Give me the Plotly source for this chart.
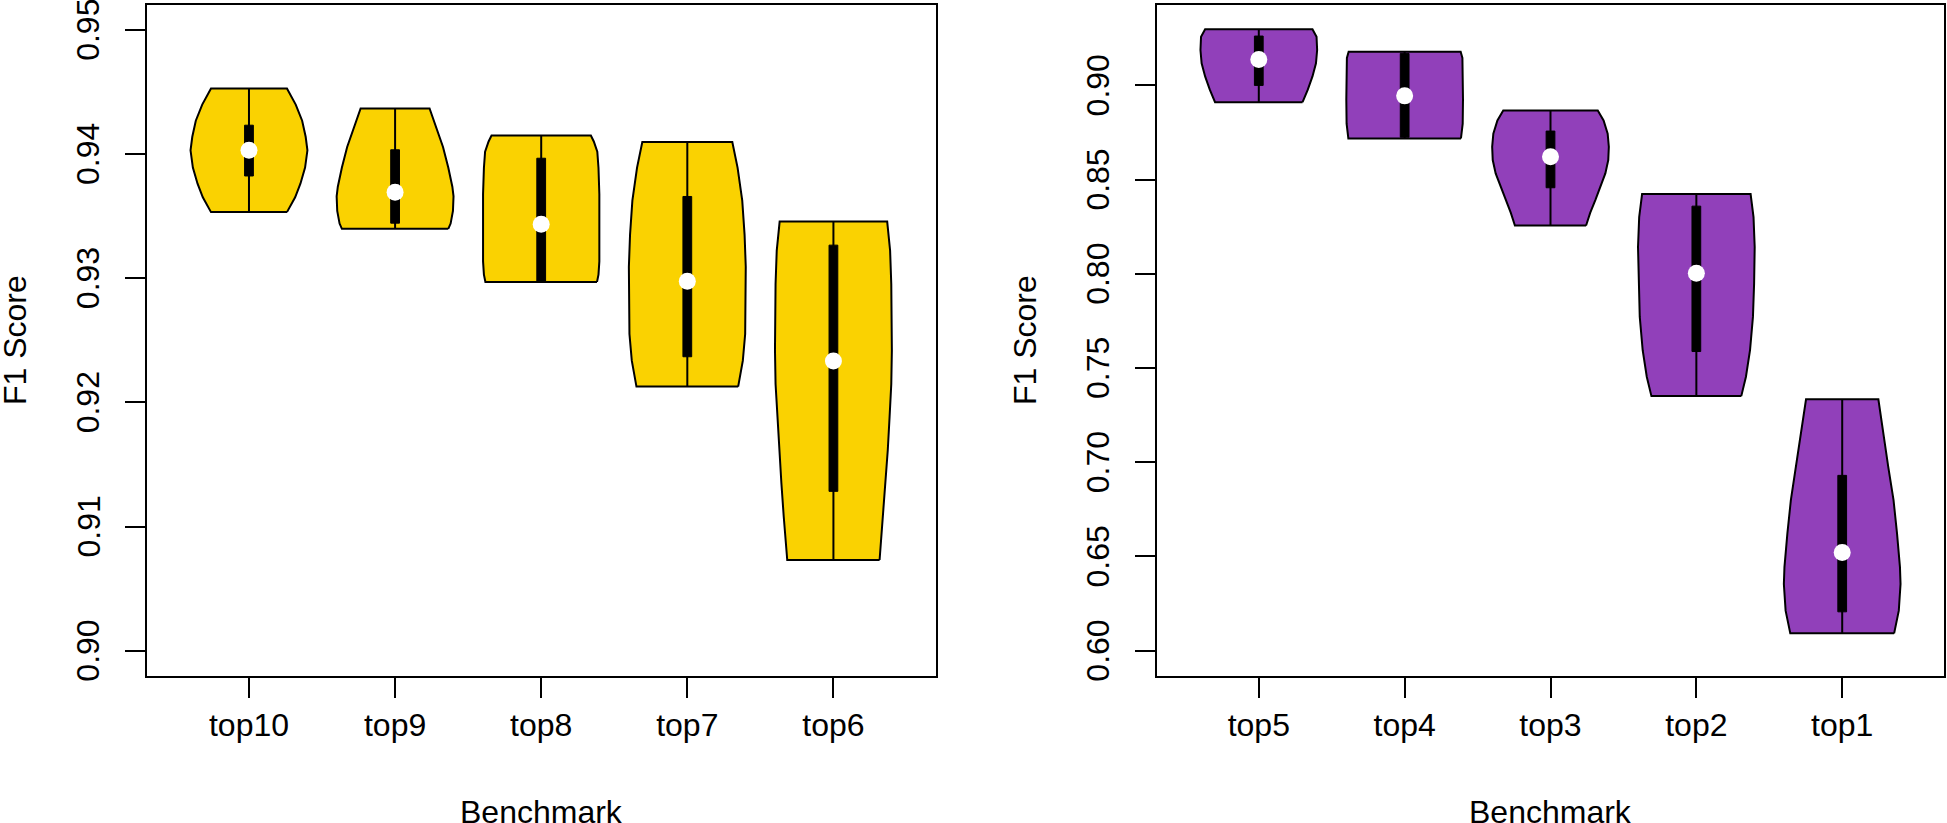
import plotly.graph_objects as go

# ---------------- data ----------------
left_cats = ["top10", "top9", "top8", "top7", "top6"]
left_min = [0.93532, 0.93397, 0.92970, 0.92127, 0.90730]
left_q1 = [0.93823, 0.93443, 0.92970, 0.92367, 0.91283]
left_med = [0.94030, 0.93692, 0.93435, 0.92975, 0.92333]
left_q3 = [0.94232, 0.94034, 0.93966, 0.93658, 0.93266]
left_max = [0.94527, 0.94367, 0.94148, 0.94097, 0.93456]

right_cats = ["top5", "top4", "top3", "top2", "top1"]
right_min = [0.89109, 0.87187, 0.82563, 0.73510, 0.60919]
right_q1 = [0.90000, 0.87250, 0.84568, 0.75877, 0.62061]
right_med = [0.91380, 0.89445, 0.86212, 0.80028, 0.65209]
right_q3 = [0.92620, 0.91700, 0.87577, 0.83593, 0.69304]
right_max = [0.92981, 0.91783, 0.88663, 0.84234, 0.73343]

# density outline: relative position between min (0) and max (1), relative half-width
left_prof_t = [
    [0.0, 0.12, 0.23, 0.36, 0.50, 0.61, 0.74, 0.87, 1.0],
    [0.0, 0.044, 0.15, 0.27, 0.35, 0.51, 0.68, 0.84, 1.0],
    [0.0, 0.05, 0.14, 0.37, 0.60, 0.78, 0.89, 0.96, 1.0],
    [0.0, 0.106, 0.215, 0.35, 0.49, 0.62, 0.76, 0.895, 1.0],
    [0.0, 0.128, 0.226, 0.325, 0.42, 0.52, 0.62, 0.717, 0.815, 0.914, 1.0],
]
left_prof_w = [
    [0.65, 0.79, 0.88, 0.96, 1.0, 0.97, 0.91, 0.80, 0.65],
    [0.91, 0.95, 0.99, 1.0, 0.98, 0.91, 0.82, 0.71, 0.59],
    [0.955, 0.98, 0.995, 1.0, 0.995, 0.98, 0.96, 0.90, 0.85],
    [0.87, 0.95, 0.99, 1.0, 1.0, 0.98, 0.94, 0.86, 0.77],
    [0.79, 0.85, 0.89, 0.93, 0.96, 0.99, 1.0, 1.0, 0.99, 0.97, 0.92],
]
right_prof_t = [
    [0.0, 0.172, 0.353, 0.534, 0.715, 0.896, 1.0],
    [0.0, 0.06, 0.17, 0.45, 0.72, 0.93, 1.0],
    [0.0, 0.11, 0.224, 0.34, 0.454, 0.57, 0.685, 0.80, 0.914, 1.0],
    [0.0, 0.096, 0.227, 0.392, 0.557, 0.738, 0.886, 1.0],
    [0.0, 0.097, 0.211, 0.283, 0.426, 0.569, 0.71, 0.854, 1.0],
]
right_prof_w = [
    [0.75, 0.84, 0.92, 0.98, 1.0, 0.99, 0.92],
    [0.965, 0.98, 0.995, 1.0, 1.0, 0.99, 0.96],
    [0.61, 0.68, 0.77, 0.85, 0.94, 0.99, 1.0, 0.98, 0.91, 0.81],
    [0.77, 0.85, 0.92, 0.97, 0.99, 1.0, 0.98, 0.93],
    [0.89, 0.97, 1.0, 0.99, 0.94, 0.88, 0.79, 0.71, 0.62],
]

left_ticks = [0.90, 0.91, 0.92, 0.93, 0.94, 0.95]
right_ticks = [0.60, 0.65, 0.70, 0.75, 0.80, 0.85, 0.90]
left_range = [0.898, 0.952]
right_range = [0.58682, 0.94268]

GOLD = "#FAD201"
PURPLE = "#9140BA"
FONT = "Liberation Sans, Arial, sans-serif"
HALF = 0.4      # max half-width of violin (x units)
BOXW = 0.03     # half-width of the box

fig = go.Figure()


def add_panel(cats, mins, q1s, meds, q3s, maxs, prof_t, prof_w, color, xa, ya):
    for i in range(len(cats)):
        xc = i + 1
        lo, hi = mins[i], maxs[i]
        ys = [lo + t * (hi - lo) for t in prof_t[i]]
        right_x = [xc + HALF * w for w in prof_w[i]]
        left_x = [xc - HALF * w for w in prof_w[i]]
        px = right_x + left_x[::-1] + [right_x[0]]
        py = ys + ys[::-1] + [ys[0]]
        fig.add_trace(go.Scatter(x=px, y=py, mode="lines", fill="toself",
                                 fillcolor=color, line=dict(color="black", width=2),
                                 xaxis=xa, yaxis=ya, hoverinfo="skip", showlegend=False))
        # whisker
        fig.add_trace(go.Scatter(x=[xc, xc], y=[lo, hi], mode="lines",
                                 line=dict(color="black", width=2),
                                 xaxis=xa, yaxis=ya, hoverinfo="skip", showlegend=False))
        # box
        fig.add_trace(go.Scatter(x=[xc - BOXW, xc + BOXW, xc + BOXW, xc - BOXW, xc - BOXW],
                                 y=[q1s[i], q1s[i], q3s[i], q3s[i], q1s[i]],
                                 mode="lines", fill="toself", fillcolor="black",
                                 line=dict(color="black", width=1),
                                 xaxis=xa, yaxis=ya, hoverinfo="skip", showlegend=False))
    # medians
    fig.add_trace(go.Scatter(x=list(range(1, len(cats) + 1)), y=meds, mode="markers",
                             marker=dict(color="white", size=17, line=dict(width=0)),
                             xaxis=xa, yaxis=ya, hoverinfo="skip", showlegend=False))


add_panel(left_cats, left_min, left_q1, left_med, left_q3, left_max,
          left_prof_t, left_prof_w, GOLD, "x", "y")
add_panel(right_cats, right_min, right_q1, right_med, right_q3, right_max,
          right_prof_t, right_prof_w, PURPLE, "x2", "y2")

W, H = 1947, 823
y_dom = [1 - 675.5 / H, 1 - 5 / H]
xl_dom = [146.7 / W, 935.7 / W]
xr_dom = [1156.7 / W, 1944.3 / W]

axis_common = dict(showline=True, linecolor="black", linewidth=2, mirror=True,
                   ticks="outside", ticklen=20, tickwidth=2, tickcolor="black",
                   showgrid=False, zeroline=False,
                   tickfont=dict(family=FONT, size=32, color="black"))

fig.update_layout(
    width=W, height=H, margin=dict(l=0, r=0, t=0, b=0),
    paper_bgcolor="white", plot_bgcolor="white",
    xaxis=dict(domain=xl_dom, range=[0.3, 5.7], tickvals=[1, 2, 3, 4, 5],
               ticktext=left_cats, anchor="y", **axis_common),
    yaxis=dict(domain=y_dom, range=left_range, tickvals=left_ticks,
               showticklabels=False, anchor="x", **axis_common),
    xaxis2=dict(domain=xr_dom, range=[0.3, 5.7], tickvals=[1, 2, 3, 4, 5],
                ticktext=right_cats, anchor="y2", **axis_common),
    yaxis2=dict(domain=y_dom, range=right_range, tickvals=right_ticks,
                showticklabels=False, anchor="x2", **axis_common),
)

tick_font = dict(family=FONT, size=32, color="black")
# y tick labels (rotated, as in the reference), placed on the axes' data scale
for v in left_ticks:
    fig.add_annotation(text=f"{v:.2f}", xref="paper", yref="y", x=88 / W, y=v,
                       xanchor="center", yanchor="middle", textangle=-90,
                       showarrow=False, font=tick_font)
for v in right_ticks:
    fig.add_annotation(text=f"{v:.2f}", xref="paper", yref="y2", x=1098 / W, y=v,
                       xanchor="center", yanchor="middle", textangle=-90,
                       showarrow=False, font=tick_font)

title_font = dict(family=FONT, size=32, color="black")
for xc in [(xl_dom[0] + xl_dom[1]) / 2, (xr_dom[0] + xr_dom[1]) / 2]:
    fig.add_annotation(text="Benchmark", xref="paper", yref="paper", x=xc,
                       y=1 - 812 / H, xanchor="center", yanchor="middle",
                       showarrow=False, font=title_font)
for xp in [15, 1025]:
    fig.add_annotation(text="F1 Score", xref="paper", yref="paper", x=xp / W,
                       y=1 - 340 / H, xanchor="center", yanchor="middle",
                       textangle=-90, showarrow=False, font=title_font)

fig.write_html("out.html",
               config={"displayModeBar": False},
               post_script="document.body.style.margin='0';document.body.style.overflow='hidden';")
